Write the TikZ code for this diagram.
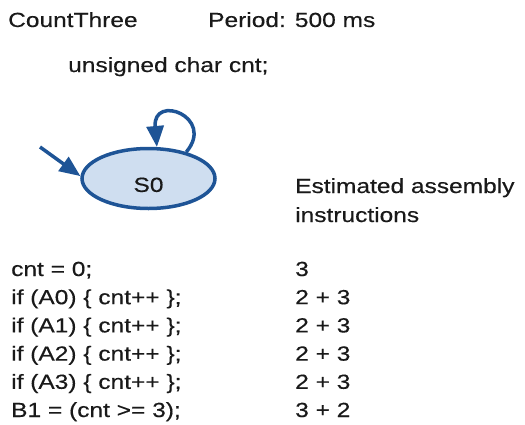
\documentclass[tikz,border=0pt]{standalone}
\usepackage{fontspec}
\setmainfont{Liberation Sans}[FakeStretch=1.2, FakeBold=0.4]
\usepackage{tikz}
\usetikzlibrary{calc, positioning, shapes, arrows.meta}
\definecolor{statefill}{RGB}{207,222,240}
\definecolor{stateline}{RGB}{30,84,150}
\definecolor{ink}{RGB}{25,25,25}
\def\linesep{28.2}
\tikzstyle{txt}=[anchor=base west, inner sep=0pt, text=ink, font=\fontsize{20.5}{28}\selectfont]
\tikzstyle{state}=[txt, anchor=center, ellipse, draw=stateline, fill=statefill, line width=3.5bp, minimum width=133bp, minimum height=60bp, text height=27bp]
\tikzstyle{trans}=[draw=stateline, line width=3.5bp, -{Triangle[length=21bp,width=17bp]}]

\begin{document}
\begin{tikzpicture}[x=1bp, y=1bp]
		\useasboundingbox (0,0) rectangle (525,424);
		\node[txt] (name) at (8,397) {CountThree};
		\node[txt] (period) at (208,397) {Period: 500 ms};
		\node[txt] (decl) at (68,352) {unsigned char cnt;};
		\node[state] (S0) at (148.5,245.5) {S0};
		\coordinate (init) at (40,277);
		\path (init) edge[trans] (S0.178);
		\draw[trans] (S0.35) .. controls +(50:46) and +(95:54) .. (S0.75);
		\node[txt] (est-1) at (295,231) {Estimated assembly};
		\node[txt] (est-2) at (295,202) {instructions};
		\foreach \code/\cost [count=\i] in {{cnt = 0;}/3, {if (A0) \{ cnt++ \};}/2 + 3, {if (A1) \{ cnt++ \};}/2 + 3, {if (A2) \{ cnt++ \};}/2 + 3, {if (A3) \{ cnt++ \};}/2 + 3, {B1 = (cnt >= 3);}/3 + 2} {
			\node[txt] (code-\i) at (11,{148-(\i-1)*\linesep}) {\code};
			\node[txt] (cost-\i) at (295,{148-(\i-1)*\linesep}) {\cost};
		}
	\end{tikzpicture}
\end{document}
